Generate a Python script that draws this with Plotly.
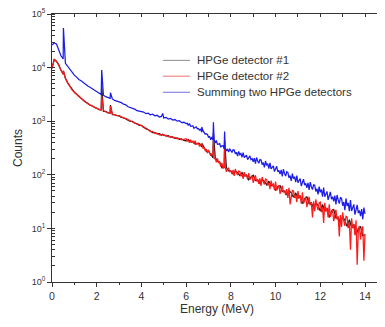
import plotly.graph_objects as go

# Energy grids (MeV)
energy_lo = [round(i * 0.1, 1) for i in range(60)]            # 0.0 .. 5.9
energy_hi_fine = [round(6 + i * 0.05, 2) for i in range(161)]  # 6.00 .. 14.00
energy_hi_coarse = [round(6 + i * 0.1, 1) for i in range(81)]  # 6.0 .. 14.0

# HPGe detector #1 (black): 0.0-5.9 then 6.0-14.0 (0.1 MeV)
det1_counts = [
    9600, 14300, 13000, 11300, 9000, 7500, 6350, 5200, 4500, 3780,
    3440, 3180, 2930, 2610, 2470, 2270, 2160, 1980, 1920, 1800,
    1760, 1640, 1630, 1530, 1520, 1430, 1420, 1330, 1330, 1270,
    1270, 1180, 1160, 1100, 1080, 990, 990, 915, 900, 840,
    840, 765, 735, 680, 655, 615, 615, 578, 585, 550,
    560, 525, 535, 503, 510, 478, 488, 458, 465, 438,
    432, 457, 412, 420, 376, 387, 383, 331, 316, 275,
    276, 244, 208, 213, 179, 171, 136, 140, 136, 118,
    117, 104, 118, 109, 97, 110, 95, 100, 81, 91,
    98, 78, 80, 69, 82, 75, 65, 76, 63, 67,
    51, 60, 63, 49, 50, 42, 51, 46, 38, 46,
    37, 41, 29, 36, 39, 29, 30, 24, 30, 27,
    21, 28, 21, 24, 16, 21, 22.5, 15.7, 16.2, 12.6,
    16.6, 14.1, 10.8, 14.5, 10.6, 11.9, 7.6, 9.9, 10.9, 7.3,
    7.6,
]

# HPGe detector #2 (red): 0.0-5.9 (0.1 MeV) then 6.00-14.00 (0.05 MeV)
det2_counts = [
    9800, 14100, 13200, 11200, 8900, 7600, 6300, 5250, 4470, 3800,
    3500, 3150, 2930, 2680, 2470, 2300, 2120, 2020, 1890, 1830,
    1730, 1670, 1610, 1575, 1500, 1455, 1410, 1360, 1310, 1300,
    1250, 1215, 1140, 1130, 1060, 1025, 965, 945, 880, 860,
    815, 785, 715, 700, 640, 645, 590, 598, 555, 570,
    540, 548, 512, 520, 495, 498, 470, 476, 450, 455,
    473, 425, 444, 394, 449, 405, 421, 378, 432, 371, 378, 390, 338, 360, 361, 317, 319, 286, 301, 254,
    292, 251, 226, 248, 237, 197, 204, 170, 202, 169, 172, 142, 166, 133, 135, 141, 114, 128, 133, 114,
    119, 103, 123, 95, 128, 109, 99, 118, 116, 94, 104, 84, 112, 93, 100, 81, 107, 81, 87, 96,
    71, 90, 98, 75, 82, 68, 86, 62, 91, 74, 66, 83, 82, 63, 71, 54, 78, 61, 68, 52,
    75, 51, 56, 64, 44, 57, 63, 47, 51, 42, 54, 37, 57, 28, 39, 51, 50, 37, 42, 31,
    50, 36, 41, 29, 47, 29, 33, 39, 25, 34, 39, 27, 30, 16, 32, 21, 35, 26, 22, 30,
    31, 20, 25, 12.6, 30, 20.5, 24.3, 16.1, 28.2, 16.4, 18.9, 22.9, 13.7, 19.5, 22.3, 14.7, 16.7, 7.1, 17.8, 10.7,
    19.9, 13.8, 11.1, 16.8, 16.3, 10.1, 12.7, 4.0, 15.5, 10.0, 12.1, 7.5, 14.2, 2.1, 8.9, 11.1, 6.2, 9.4, 10.9, 2.5,
    7.9,
]

# Summing two HPGe detectors (blue): same grid as detector #2
sum_counts = [
    26300, 28800, 27500, 20900, 16600, 14500, 12000, 10500, 9100, 7940,
    7240, 6650, 6000, 5680, 5200, 4950, 4530, 4310, 4040, 3850,
    3540, 3360, 3150, 3060, 2870, 2790, 2660, 2600, 2440, 2370,
    2270, 2215, 2080, 2020, 1860, 1800, 1720, 1680, 1570, 1530,
    1470, 1480, 1380, 1410, 1320, 1350, 1260, 1290, 1200, 1225,
    1150, 1180, 1095, 1125, 1050, 1075, 1000, 1020, 940, 955,
    902, 912, 832, 902, 804, 809, 822, 738, 773, 785, 724, 729, 681, 705, 624, 673, 617, 573, 586, 566,
    505, 515, 452, 509, 450, 451, 391, 437, 371, 373, 381, 327, 348, 349, 306, 308, 279, 304, 266, 307,
    282, 261, 294, 289, 247, 263, 224, 274, 237, 249, 213, 258, 210, 219, 232, 192, 216, 225, 192, 200,
    175, 205, 161, 210, 180, 164, 193, 189, 155, 169, 138, 181, 150, 161, 131, 167, 129, 135, 147, 115,
    135, 144, 114, 121, 103, 124, 93, 127, 106, 95, 114, 111, 88, 97, 77, 105, 85, 92, 73, 97,
    71, 76, 85, 62, 77, 83, 64, 69, 57, 71, 52, 73, 60, 53, 65, 64, 49, 55, 43, 60,
    47, 53, 39, 58, 39, 43, 49, 34, 44, 48, 35, 39, 32, 41, 28, 42, 34, 29, 37.5, 36.6,
    26.5, 31.3, 21.9, 36.2, 26.1, 30, 21, 33.7, 21.1, 23.7, 28.1, 18.1, 24.5, 27.5, 19.3, 21.6, 16.9, 23, 14.8, 24.4,
    18.6,
]

# Narrow gamma lines on top of the continuum
peak_energy = [0.511, 2.223, 2.614, 4.95, 6.70, 7.22, 7.72]
det1_peaks = [8600, 4500, 2000, 570, 385, 600, 420]
det2_peaks = [8800, 3000, 1900, 560, 380, 450, 300]
sum_peaks = [55000, 9000, 3400, 1400, 780, 950, 640]

x_ticks = [0, 2, 4, 6, 8, 10, 12, 14]
y_ticks = [1, 10, 100, 1000, 10000, 100000]
y_tick_text = ["10<sup>0</sup>", "10<sup>1</sup>", "10<sup>2</sup>",
               "10<sup>3</sup>", "10<sup>4</sup>", "10<sup>5</sup>"]


def merged(grid, vals, peak_vals):
    pts = sorted(list(zip(grid, vals)) + list(zip(peak_energy, peak_vals)))
    return [p[0] for p in pts], [p[1] for p in pts]


series = [
    ("HPGe detector #1", energy_lo + energy_hi_coarse, det1_counts, det1_peaks, "#1a1a1a"),
    ("HPGe detector #2", energy_lo + energy_hi_fine, det2_counts, det2_peaks, "#ff1a1a"),
    ("Summing two HPGe detectors", energy_lo + energy_hi_fine, sum_counts, sum_peaks, "#1c1ce8"),
]

fig = go.Figure()
for name, grid, vals, pk, col in series:
    xs, ys = merged(grid, vals, pk)
    fig.add_trace(go.Scatter(x=xs, y=ys, mode="lines", name=name,
                             line=dict(color=col, width=1.25)))

FONT = "Liberation Sans, Arial, sans-serif"
AX = "#333333"

# Legend drawn as line samples + labels inside the plot area
legend_rows_y = [0.827, 0.768, 0.708]
legend_colors = ["#8a8a8a", "#f07070", "#7070e0"]
shapes = []
annotations = []
for (name, _, _, _, _), yy, lc in zip(series, legend_rows_y, legend_colors):
    shapes.append(dict(type="line", xref="paper", yref="paper",
                       x0=0.336, x1=0.418, y0=yy, y1=yy,
                       line=dict(color=lc, width=1)))
    annotations.append(dict(xref="paper", yref="paper", x=0.433, y=yy,
                            xanchor="left", yanchor="middle", showarrow=False,
                            text=name, font=dict(size=11.5, color=AX)))

fig.update_layout(
    width=377, height=319,
    margin=dict(l=44, r=3, t=6, b=45),
    paper_bgcolor="white", plot_bgcolor="white",
    font=dict(family=FONT, color=AX),
    showlegend=False,
    shapes=shapes,
    annotations=annotations,
    xaxis=dict(range=[0, 14.76], tickvals=x_ticks, ticks="outside", ticklen=4,
               tickcolor=AX, showline=True, linecolor=AX, linewidth=1,
               showgrid=False, zeroline=False, tickfont=dict(size=10.5),
               automargin=False, ticklabeloverflow="allow",
               minor=dict(ticks="outside", ticklen=2, dtick=1, tickcolor=AX),
               title=dict(text="Energy (MeV)", font=dict(size=12), standoff=4)),
    yaxis=dict(type="log", range=[0, 5], tickvals=y_ticks, ticktext=y_tick_text,
               ticks="outside", ticklen=4, tickcolor=AX, showline=True,
               linecolor=AX, linewidth=1, showgrid=False, zeroline=False,
               tickfont=dict(size=9), automargin=False, ticklabeloverflow="allow",
               minor=dict(ticks="inside", ticklen=3, dtick="D1", tickcolor=AX),
               title=dict(text="Counts", font=dict(size=12), standoff=6)),
    xaxis2=dict(overlaying="x", side="top", matches="x", range=[0, 14.76],
                dtick=1, ticks="inside", ticklen=3, tickcolor=AX,
                showticklabels=False, showline=True, linecolor=AX,
                linewidth=1, showgrid=False, zeroline=False, automargin=False),
    yaxis2=dict(overlaying="y", side="right", type="log", range=[0, 5], dtick=1,
                ticks="inside", ticklen=4, tickcolor=AX,
                showticklabels=False, showline=True, linecolor=AX,
                linewidth=1, showgrid=False, zeroline=False, automargin=False),
)
# invisible trace that activates the mirrored top/right axes
fig.add_trace(go.Scatter(x=[1], y=[10], xaxis="x2", yaxis="y2", mode="markers",
                         marker=dict(opacity=0), showlegend=False, hoverinfo="skip"))

fig.write_html("out.html")
